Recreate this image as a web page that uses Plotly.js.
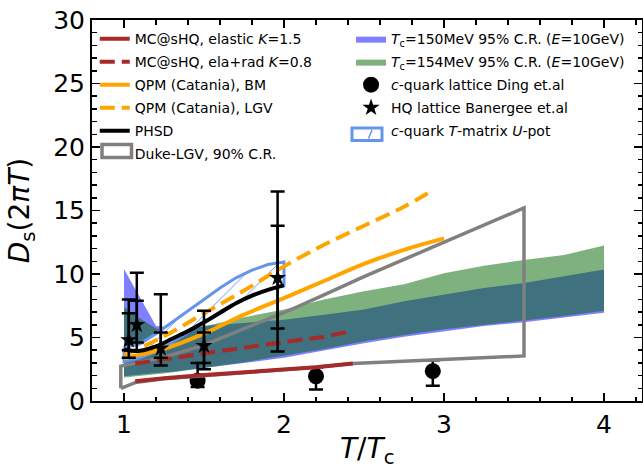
<!DOCTYPE html>
<html>
<head>
<meta charset="utf-8">
<script src="https://cdn.plot.ly/plotly-3.0.1.min.js"></script>
<style>html,body{margin:0;padding:0;background:#fff;}#chart{width:643px;height:470px;}</style>
</head>
<body>
<div id="chart"></div>
<script>
// ---- data ----
const bandX = [1.0,1.1,1.2,1.3,1.4,1.5,1.75,2.0,2.25,2.5,2.75,3.0,3.25,3.5,3.75,4.0];
const tc150Upper = [10.4,8.1,5.9,5.8,5.8,5.9,6.15,6.4,6.8,7.2,7.85,8.4,8.9,9.3,9.8,10.35];
const tc150Lower = [1.95,2.05,2.2,2.3,2.45,2.6,3.0,3.4,3.95,4.55,5.05,5.5,5.9,6.2,6.55,6.95];
const tc154Upper = [7.4,6.5,5.7,5.45,5.6,5.9,6.6,7.2,8.0,8.65,9.2,10.05,10.65,11.1,11.5,12.25];
const tc154Lower = [1.85,1.95,2.1,2.25,2.4,2.6,3.05,3.55,4.1,4.7,5.2,5.65,6.05,6.35,6.7,7.1];

const tmatX = [1.0,1.1,1.2,1.3,1.4,1.5,1.6,1.7,1.8,1.9,2.0];
const tmatUpper = [4.2,4.5,5.3,6.2,7.1,8.0,8.9,9.7,10.3,10.75,10.95];
const tmatLower = [3.1,3.4,3.9,4.6,5.4,6.2,6.9,7.7,8.3,8.75,9.1];

const dukeLowerX = [0.98,1.07,1.25,1.5,1.75,2.0,2.2,2.43,3.0,3.5];
const dukeLowerY = [1.0,1.45,1.75,2.0,2.2,2.45,2.65,2.95,3.25,3.55];
const dukeUpperX = [3.5,3.0,2.5,2.25,2.0,1.75,1.5,1.25,0.98];
const dukeUpperY = [15.2,12.5,9.8,8.35,6.95,5.7,4.4,3.45,2.75];

const mcElX = [1.07,1.25,1.5,1.75,2.0,2.2,2.43];
const mcElY = [1.55,1.8,2.05,2.25,2.45,2.65,2.95];
const mcRadX = [1.07,1.25,1.5,1.75,2.0,2.25,2.42];
const mcRadY = [2.95,3.3,3.75,4.2,4.65,5.05,5.5];

const qpmBmX = [1.0,1.25,1.5,1.75,2.0,2.25,2.5,2.75,3.0];
const qpmBmY = [3.4,4.1,5.3,6.8,8.1,9.45,10.8,11.9,12.8];
const qpmLgvX = [1.0,1.25,1.5,1.75,2.0,2.25,2.5,2.75,2.93];
const qpmLgvY = [3.6,5.1,6.9,8.7,10.6,12.3,13.8,15.3,16.6];

const phsdX = [1.0,1.05,1.1,1.2,1.3,1.4,1.5,1.6,1.7,1.8,1.9,2.0];
const phsdY = [4.05,3.95,3.95,4.3,4.9,5.5,6.2,6.95,7.7,8.3,8.75,9.1];

const dingX = [1.46,2.2,2.93];
const dingY = [1.6,1.95,2.35];
const dingErrPlus = [1.4,0.7,0.85];
const dingErrMinus = [0.5,1.05,1.15];

const banX = [1.03,1.08,1.23,1.5,1.96];
const banY = [4.8,6.0,4.15,4.35,9.7];
const banOuterTop = [8.0,10.1,8.4,7.1,16.5];
const banOuterBottom = [3.4,4.0,2.8,2.5,3.9];
const banInnerTop = [6.9,7.9,5.4,5.4,13.8];
const banInnerBottom = [4.0,4.6,3.4,3.0,5.7];

const labels = {
  mcEl: 'MC@sHQ, elastic <i>K</i>=1.5',
  mcRad: 'MC@sHQ, ela+rad <i>K</i>=0.8',
  qpmBm: 'QPM (Catania), BM',
  qpmLgv: 'QPM (Catania), LGV',
  phsd: 'PHSD',
  duke: 'Duke-LGV, 90% C.R.',
  tc150: '<i>T</i><sub>c</sub>=150MeV 95% C.R. (<i>E</i>=10GeV)',
  tc154: '<i>T</i><sub>c</sub>=154MeV 95% C.R. (<i>E</i>=10GeV)',
  ding: '<i>c</i>-quark lattice Ding et.al',
  ban: 'HQ lattice Banergee et.al',
  tmat: '<i>c</i>-quark <i>T</i>-matrix <i>U</i>-pot',
  xTitle: '<i>T</i>/<i>T</i><sub>c</sub>',
  yTitle: '<i>D</i><sub>s</sub>(2<i>πT</i>)'
};

// ---- helpers ----
function closedBand(x, up, lo){
  return {x: x.concat(x.slice().reverse(), [x[0]]), y: up.concat(lo.slice().reverse(), [up[0]])};
}
const b150 = closedBand(bandX, tc150Upper, tc150Lower);
const b154 = closedBand(bandX, tc154Upper, tc154Lower);
const bT = closedBand(tmatX, tmatUpper, tmatLower);
const dukeX = dukeLowerX.concat(dukeUpperX, [dukeLowerX[0]]);
const dukeY = dukeLowerY.concat(dukeUpperY, [dukeLowerY[0]]);

const RED = '#a52a2a', ORANGE = '#ffa500', GRAY = '#808080', CBLUE = '#6495ed';
let g = 0;
function grp(){ g += 1; return 'g' + g; }

const traces = [
  {x: b150.x, y: b150.y, mode: 'lines', fill: 'toself', fillcolor: 'rgba(0,0,255,0.5)', line: {width: 0, color: 'rgba(0,0,255,0.5)'}, name: labels.tc150, legend: 'legend2', legendgroup: grp(), hoverinfo: 'skip'},
  {x: b154.x, y: b154.y, mode: 'lines', fill: 'toself', fillcolor: 'rgba(0,100,0,0.5)', line: {width: 0, color: 'rgba(0,100,0,0.5)'}, name: labels.tc154, legend: 'legend2', legendgroup: grp(), hoverinfo: 'skip'},
  {x: bT.x, y: bT.y, mode: 'lines', fill: 'toself', fillcolor: 'white', line: {width: 0, color: 'white'}, showlegend: false, hoverinfo: 'skip'},
  {x: bT.x, y: bT.y, mode: 'lines', fill: 'toself', fillcolor: 'rgba(255,255,255,0)',
   fillpattern: {shape: '/', fgcolor: CBLUE, size: 16, solidity: 0.06},
   line: {width: 3, color: CBLUE}, showlegend: false, hoverinfo: 'skip'},
  {x: dingX, y: dingY, mode: 'markers', marker: {symbol: 'circle', size: 16, color: 'black'},
   error_y: {type: 'data', symmetric: false, array: dingErrPlus, arrayminus: dingErrMinus, color: 'black', thickness: 2.5, width: 7},
   name: labels.ding, legend: 'legend2', legendgroup: grp()},
  {x: dukeX, y: dukeY, mode: 'lines', line: {width: 3.5, color: GRAY}, showlegend: false, hoverinfo: 'skip'},
  {x: mcElX, y: mcElY, mode: 'lines', line: {width: 4, color: RED}, name: labels.mcEl, legend: 'legend', legendgroup: grp()},
  {x: mcRadX, y: mcRadY, mode: 'lines', line: {width: 4, color: RED, dash: '15px,7px'}, name: labels.mcRad, legend: 'legend', legendgroup: grp()},
  {x: qpmBmX, y: qpmBmY, mode: 'lines', line: {width: 4, color: ORANGE, shape: 'spline'}, name: labels.qpmBm, legend: 'legend', legendgroup: grp()},
  {x: qpmLgvX, y: qpmLgvY, mode: 'lines', line: {width: 4, color: ORANGE, dash: '15px,7px', shape: 'spline'}, name: labels.qpmLgv, legend: 'legend', legendgroup: grp()},
  {x: phsdX, y: phsdY, mode: 'lines', line: {width: 4, color: 'black', shape: 'spline'}, name: labels.phsd, legend: 'legend', legendgroup: grp()},
  {x: banX, y: banY, mode: 'markers', marker: {size: 0.1, color: 'black'}, showlegend: false, hoverinfo: 'skip',
   error_y: {type: 'data', symmetric: false,
     array: banInnerTop.map((v,i)=>v-banY[i]), arrayminus: banY.map((v,i)=>v-banInnerBottom[i]),
     color: 'black', thickness: 2.5, width: 7}},
  {x: banX, y: banY, mode: 'markers', marker: {symbol: 'star', size: 13, color: 'black'},
   error_y: {type: 'data', symmetric: false,
     array: banOuterTop.map((v,i)=>v-banY[i]), arrayminus: banY.map((v,i)=>v-banOuterBottom[i]),
     color: 'black', thickness: 2.5, width: 7},
   name: labels.ban, legend: 'legend2', legendgroup: grp()},
  // legend entries whose symbols are drawn as boxes below
  {x: [null], y: [null], mode: 'lines', line: {width: 0, color: 'rgba(0,0,0,0)'}, name: labels.duke, legend: 'legend', legendgroup: grp()},
  {x: [null], y: [null], mode: 'lines', line: {width: 0, color: 'rgba(0,0,0,0)'}, name: labels.tmat, legend: 'legend2', legendgroup: grp()}
];

// legend box symbols (paper coordinates; plot area 92..642 x 20..401 px)
function px2x(p){ return (p - 92) / 550; }
function py2y(p){ return (401 - p) / 381; }
const shapes = [
  {type: 'rect', xref: 'paper', yref: 'paper', x0: px2x(102), x1: px2x(131.5), y0: py2y(157.5), y1: py2y(144.5),
   line: {color: GRAY, width: 3.5}, fillcolor: 'white', layer: 'above'},
  {type: 'rect', xref: 'paper', yref: 'paper', x0: px2x(352), x1: px2x(382), y0: py2y(140.5), y1: py2y(128),
   line: {color: CBLUE, width: 3}, fillcolor: 'white', layer: 'above'},
  {type: 'line', xref: 'paper', yref: 'paper', x0: px2x(368.5), x1: px2x(372), y0: py2y(138.5), y1: py2y(130),
   line: {color: CBLUE, width: 1.5}, layer: 'above'}
];

const FONT = 'DejaVu Sans, sans-serif';
const axisCommon = {
  showline: true, linewidth: 2, linecolor: 'black', mirror: 'allticks',
  ticks: 'inside', ticklen: 8, tickwidth: 1.8, tickcolor: 'black',
  showgrid: false, zeroline: false, automargin: false,
  tickfont: {family: FONT, size: 25, color: 'black'}
};

const layout = {
  width: 643, height: 470,
  margin: {l: 92, r: 1, t: 20, b: 69, autoexpand: false},
  paper_bgcolor: 'white', plot_bgcolor: 'white',
  font: {family: FONT, color: 'black'},
  xaxis: Object.assign({}, axisCommon, {
    range: [0.8, 4.2375], tick0: 0, dtick: 1,
    minor: {dtick: 0.2, ticks: 'inside', ticklen: 4.5, tickwidth: 1.5, tickcolor: 'black', showgrid: false}
  }),
  yaxis: Object.assign({}, axisCommon, {
    range: [0, 30], tick0: 0, dtick: 5,
    minor: {dtick: 1, ticks: 'inside', ticklen: 4.5, tickwidth: 1.5, tickcolor: 'black', showgrid: false},
    title: {text: labels.yTitle, font: {family: FONT, size: 28, color: 'black'}, standoff: 15}
  }),
  annotations: [
    {text: labels.xTitle, xref: 'paper', yref: 'paper', x: 0.5, y: py2y(451), xanchor: 'center', yanchor: 'middle',
     showarrow: false, font: {family: FONT, size: 28, color: 'black'}}
  ],
  legend: {x: 0.005, y: 0.992, xanchor: 'left', yanchor: 'top', bgcolor: 'rgba(0,0,0,0)', borderwidth: 0,
    font: {family: FONT, size: 14, color: 'black'}, traceorder: 'grouped', tracegroupgap: 1.8},
  legend2: {x: 0.471, y: 0.992, xanchor: 'left', yanchor: 'top', bgcolor: 'rgba(0,0,0,0)', borderwidth: 0,
    font: {family: FONT, size: 14, color: 'black'}, traceorder: 'grouped', tracegroupgap: 1.8},
  shapes: shapes,
  showlegend: true
};

Plotly.newPlot('chart', traces, layout, {displayModeBar: false, staticPlot: true});
</script>
</body>
</html>
